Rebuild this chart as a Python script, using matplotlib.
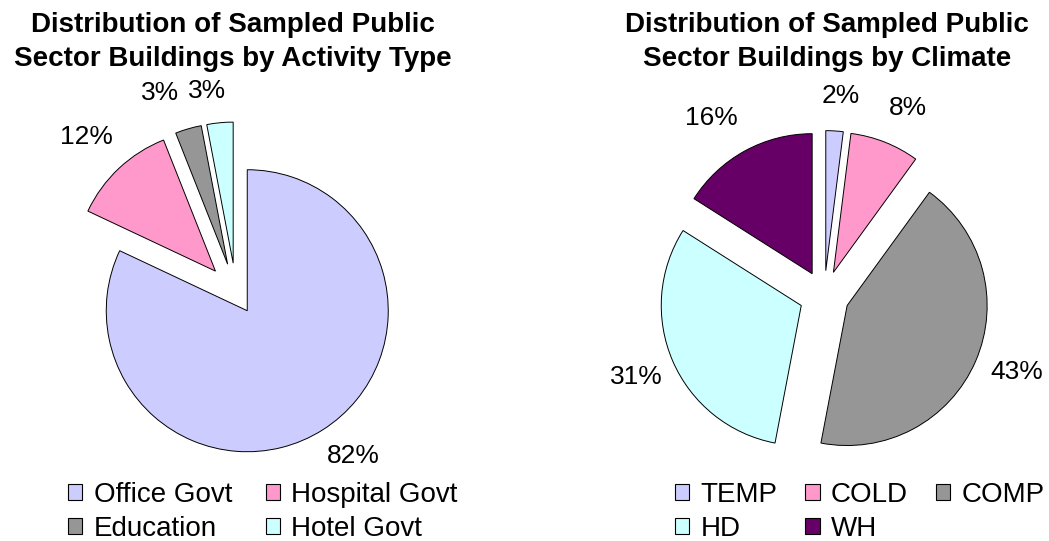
import matplotlib
matplotlib.use("Agg")
import matplotlib.pyplot as plt
from matplotlib.patches import Patch
import numpy as np

plt.rcParams['font.family'] = ['Liberation Sans', 'DejaVu Sans']

# ---- data ----
act_labels = ["Office Govt", "Hospital Govt", "Education", "Hotel Govt"]
act_values = [82, 12, 3, 3]
act_colors = ["#CCCCFF", "#FF99CC", "#969696", "#CCFFFF"]

clim_labels = ["TEMP", "COLD", "COMP", "HD", "WH"]
clim_values = [2, 8, 43, 31, 16]
clim_colors = ["#CCCCFF", "#FF99CC", "#969696", "#CCFFFF", "#660066"]

title_left = ["Distribution of Sampled Public", "Sector Buildings by Activity Type"]
title_right = ["Distribution of Sampled Public", "Sector Buildings by Climate"]

W, H = 1049, 541
fig = plt.figure(figsize=(W / 100, H / 100), dpi=100)
ax = fig.add_axes([0, 0, 1, 1])

# ---- styles / layout ----
left_center = (236, H - 293)
right_center = (824.2, H - 295.6)
left_radius, right_radius = 141, 140
left_explode = [21, 30, 30, 30]
right_explode = [25, 25, 25, 25, 25]
left_lab_k = [1.277, 1.317, 1.305, 1.234]
left_lab_da = [3.8, 0.6, 5.3, 3.1]
right_lab_k = [1.252, 1.289, 1.303, 1.286, 1.323]
right_lab_da = [-1.4, -2.8, 2.0, 0.0, 4.0]
LABEL_FS = 19
LEG_FS = 20
TITLE_FS = 20


def draw_pie(values, colors, center, radius, explode, ks, das):
    wedges, _ = ax.pie(values, colors=colors, explode=explode, radius=radius,
                       center=center, startangle=90, counterclock=False,
                       wedgeprops=dict(edgecolor="black", linewidth=0.7))
    for w, v, k, da in zip(wedges, values, ks, das):
        mid = np.deg2rad((w.theta1 + w.theta2) / 2 + da)
        cx, cy = w.center
        ax.text(cx + k * w.r * np.cos(mid), cy + k * w.r * np.sin(mid),
                f"{v}%", ha="center", va="center", fontsize=LABEL_FS)
    return wedges


draw_pie(act_values, act_colors, left_center, left_radius, left_explode,
         left_lab_k, left_lab_da)
draw_pie(clim_values, clim_colors, right_center, right_radius, right_explode,
         right_lab_k, right_lab_da)

ax.set_xlim(0, W)
ax.set_ylim(0, H)
ax.set_aspect("auto")
ax.axis("off")

# titles
for lines, xc in ((title_left, 233), (title_right, 827)):
    fig.text(xc / W, 1 - 32 / H, lines[0], ha="center", va="baseline",
             fontsize=TITLE_FS, fontweight="bold")
    fig.text(xc / W, 1 - 66 / H, lines[1], ha="center", va="baseline",
             fontsize=TITLE_FS, fontweight="bold")


def make_legend(labels, colors, order, ncol, x0, ytop, colspacing):
    handles = [Patch(facecolor=colors[i], edgecolor="black", linewidth=0.8) for i in order]
    labs = [labels[i] for i in order]
    fig.legend(handles, labs, loc="upper left", bbox_to_anchor=(x0 / W, 1 - ytop / H),
               ncol=ncol, frameon=False, fontsize=LEG_FS, handlelength=0.52,
               handleheight=0.52, handletextpad=0.4, columnspacing=colspacing,
               labelspacing=0.27, borderpad=0, borderaxespad=0)


make_legend(act_labels, act_colors, [0, 2, 1, 3], 2, 68, 482, 1.22)
make_legend(clim_labels, clim_colors, [0, 3, 1, 4, 2], 3, 675, 482, 1.0)

fig.savefig("out.png", dpi=100)
